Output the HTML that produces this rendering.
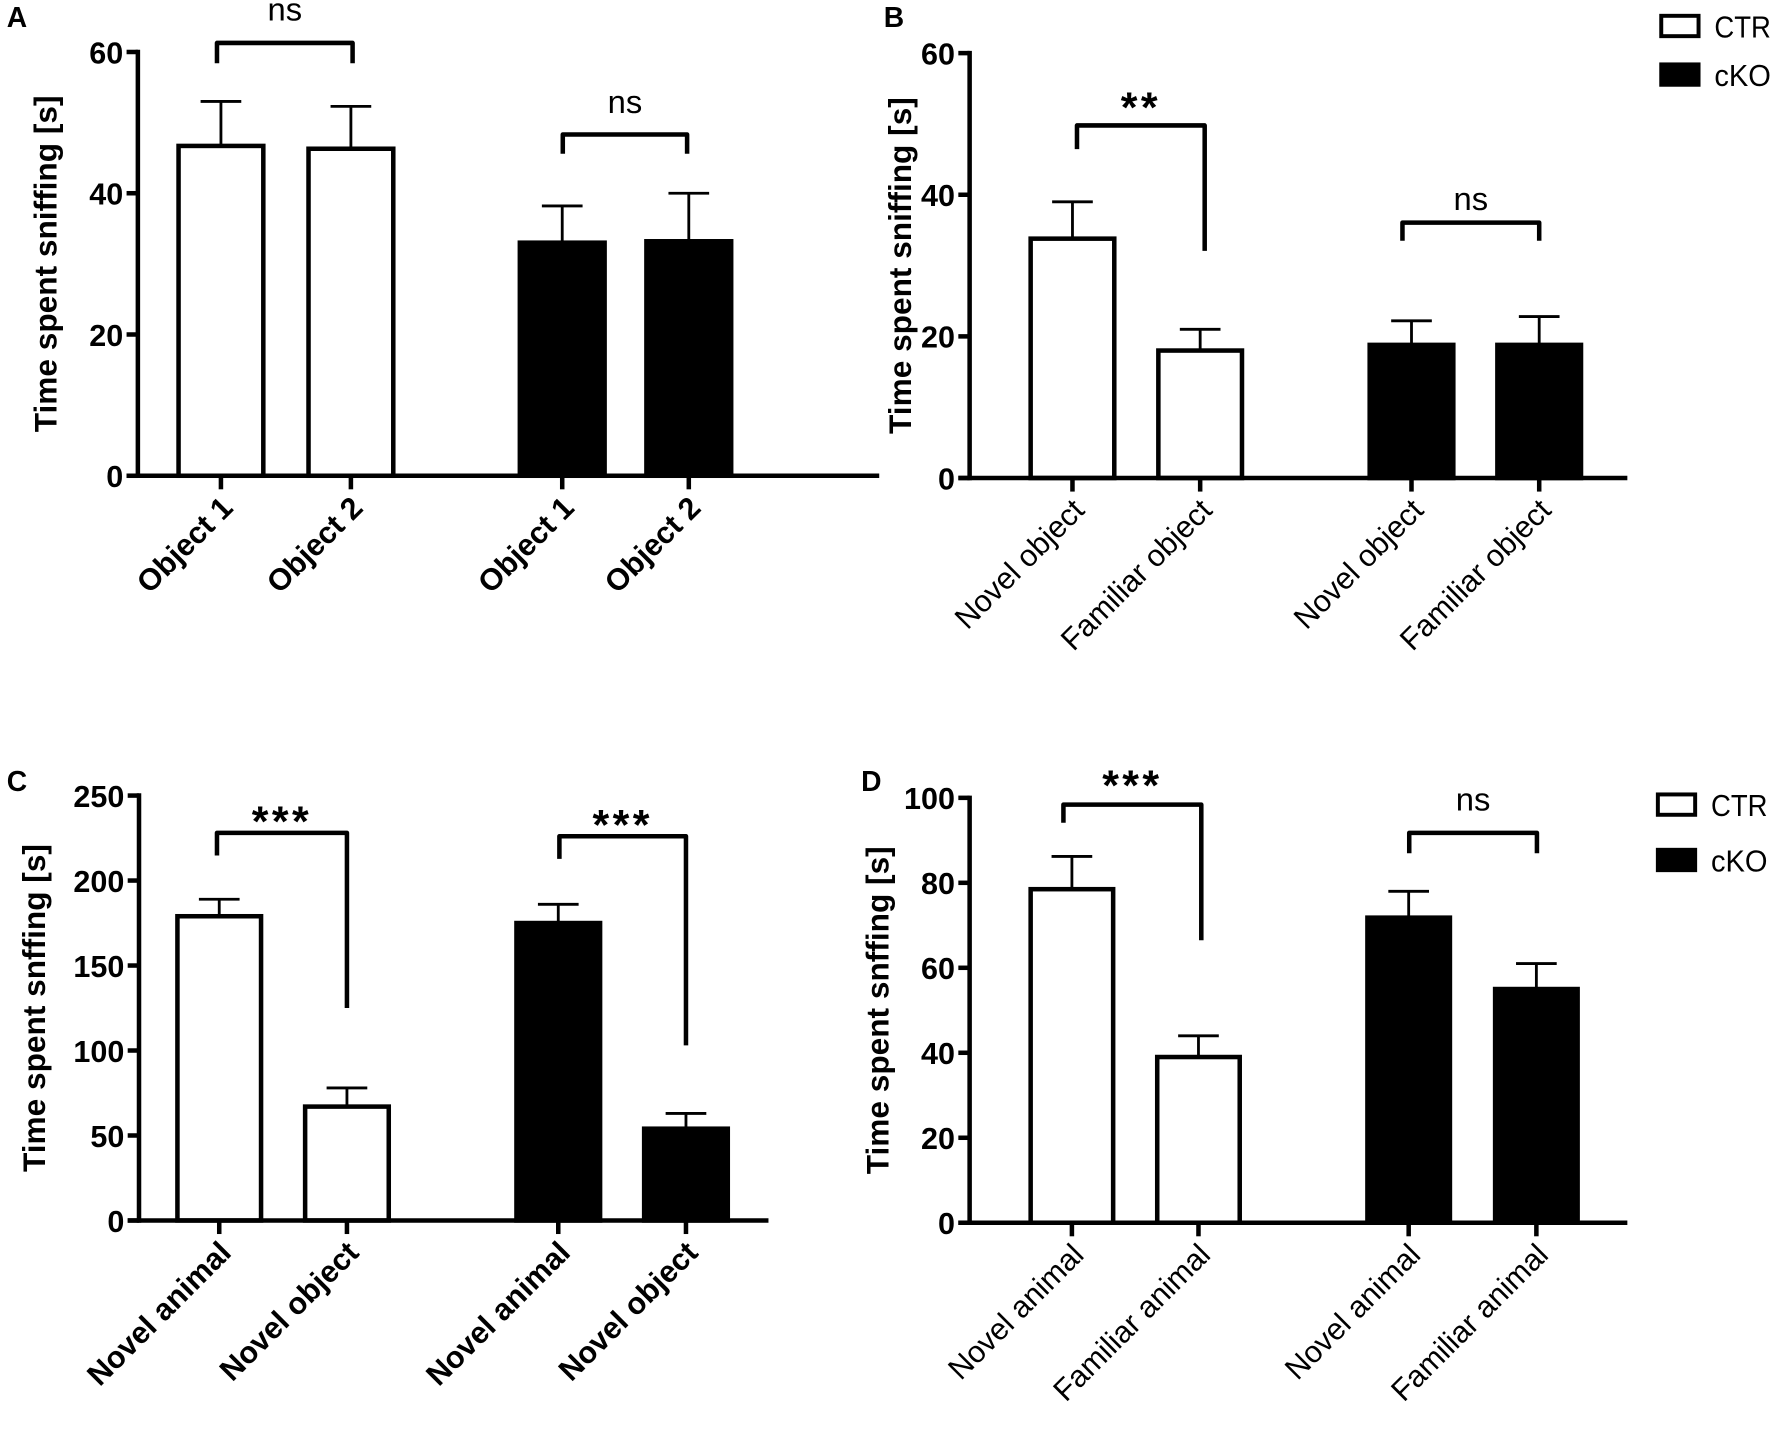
<!DOCTYPE html>
<html><head><meta charset="utf-8"><style>
html,body{margin:0;padding:0;background:#fff;}
svg{display:block;}
text{font-family:"Liberation Sans",Arial,sans-serif;fill:#000;}
</style></head><body>
<svg id="fig" width="1772" height="1437" viewBox="0 0 1568 1271.6" preserveAspectRatio="none" xmlns="http://www.w3.org/2000/svg"></svg>
<script>
// Panel A
const catsA = ["Object 1","Object 2","Object 1","Object 2"];
const valsA = [46.7, 46.3, 33.0, 33.2];
const errsA = [53.0, 52.3, 38.2, 40.0];
const ticksA = [0,20,40,60];
// Panel B
const catsB = ["Novel object","Familiar object","Novel object","Familiar object"];
const valsB = [33.8, 18.0, 18.8, 18.8];
const errsB = [39.0, 21.0, 22.2, 22.8];
const ticksB = [0,20,40,60];
// Panel C
const catsC = ["Novel animal","Novel object","Novel animal","Novel object"];
const valsC = [179, 67, 175, 54];
const errsC = [189, 78, 186, 63];
const ticksC = [0,50,100,150,200,250];
// Panel D
const catsD = ["Novel animal","Familiar animal","Novel animal","Familiar animal"];
const valsD = [78.5, 39.0, 71.8, 55.0];
const errsD = [86.2, 44.0, 78.0, 61.0];
const ticksD = [0,20,40,60,80,100];
const groups = ["CTR","CTR","cKO","cKO"];

const NS = "http://www.w3.org/2000/svg";
const svg = document.getElementById("fig");
function mk(tag, attrs, parent){
  const e = document.createElementNS(NS, tag);
  for (const k in attrs) e.setAttribute(k, attrs[k]);
  (parent||svg).appendChild(e);
  return e;
}

function panel(cfg){
  const g = mk("g", {});
  
  
  const y = v => cfg.y0 - (v - 0) / cfg.ymax * (cfg.y0 - cfg.ytop);
  const lt = mk("text", {x: cfg.letterX, y: cfg.letterY, "font-size": 25, "font-weight": "bold"}, g);
  lt.textContent = cfg.id;
  
  
  cfg.ticks.forEach(t => {
    const tl = mk("line", {x1: cfg.ax - 10, x2: cfg.ax, y1: y(t), y2: y(t), stroke: "#000", "stroke-width": 4}, g);
    
    
    const tx = mk("text", {x: cfg.ax - 13, y: y(t) + 10, "font-size": 27, "font-weight": "bold", "text-anchor": "end"}, g);
    tx.textContent = t;
    
    
  });
  const yt = mk("text", {x: 0, y: 0, "font-size": 28, "font-weight": "bold", "text-anchor": "middle",
    transform: `translate(${cfg.titleX},${(cfg.y0 + cfg.ytop) / 2}) rotate(-90)`}, g);
  yt.textContent = "Time spent " + cfg.sniff + " [s]";
  
  
  cfg.vals.forEach((v, i) => {
    const x0 = cfg.barX[i], w = cfg.barW, cx = x0 + w / 2;
    const filled = groups[i] === "cKO";
    const eb = mk("line", {x1: cx, x2: cx, y1: y(v), y2: y(cfg.errs[i]), stroke: "#000", "stroke-width": 2.5}, g);
    
    
    const ec = mk("line", {x1: cx - 18, x2: cx + 18, y1: y(cfg.errs[i]), y2: y(cfg.errs[i]), stroke: "#000", "stroke-width": 2.5}, g);
    
    
    const r = mk("rect", {x: x0, y: y(v), width: w, height: cfg.y0 - y(v), fill: filled ? "#000" : "#fff", stroke: "#000", "stroke-width": 4}, g);
    
    
    const xt = mk("line", {x1: cx, x2: cx, y1: cfg.y0, y2: cfg.y0 + 12, stroke: "#000", "stroke-width": 4}, g);
    
    
    const lb = mk("text", {x: 0, y: 0, "font-size": 27, "font-weight": cfg.boldLabels ? "bold" : "normal", "text-anchor": "end",
      transform: `translate(${cx + 12},${cfg.y0 + 30}) rotate(-45)`}, g);
    lb.textContent = cfg.cats[i];
    
    
  });
  const ya = mk("line", {x1: cfg.ax, x2: cfg.ax, y1: cfg.ytop - 2, y2: cfg.y0 + 2, stroke: "#000", "stroke-width": 4}, g);
  
  
  const xa = mk("line", {x1: cfg.ax - 10, x2: cfg.axEnd, y1: cfg.y0, y2: cfg.y0, stroke: "#000", "stroke-width": 4}, g);
  
  
  cfg.brackets.forEach(b => {
    const p = mk("polyline", {points: `${b.x1},${b.yl} ${b.x1},${b.top} ${b.x2},${b.top} ${b.x2},${b.yr}`, fill: "none", stroke: "#000", "stroke-width": 4, "stroke-linejoin": "round"}, g);
    
    
    const isNs = b.label === "ns";
    const st = mk("text", {x: (b.x1 + b.x2) / 2, y: b.ty, "font-size": isNs ? 29 : 38, "font-weight": isNs ? "normal" : "bold", "text-anchor": "middle", "letter-spacing": isNs ? 0 : 3}, g);
    st.textContent = b.label;
    
    
  });
  if (cfg.legend) {
    const L = cfg.legend;
    [["CTR", "#fff", 0], ["cKO", "#000", 1]].forEach(([name, fill, k]) => {
      const yy = L.y + k * L.dy;
      const r = mk("rect", {x: L.x, y: yy, width: 33, height: 18, fill: fill, stroke: "#000", "stroke-width": 3.5}, g);
      
      
      const t = mk("text", {x: L.x + 47, y: yy + 19, "font-size": 27, textLength: 50, lengthAdjust: "spacingAndGlyphs"}, g);
      t.textContent = name;
      
      
    });
  }
}

panel({id: "A", cats: catsA, vals: valsA, errs: errsA, ticks: ticksA, ymax: 60, ax: 122, axEnd: 778, y0: 421, ytop: 46,
  barX: [158, 273, 460, 572], barW: 75, letterX: 6, letterY: 24, titleX: 50, sniff: "sniffing", boldLabels: true,
  brackets: [{x1: 192, x2: 312, top: 38, yl: 56, yr: 56, label: "ns", ty: 18},
             {x1: 498, x2: 608, top: 119, yl: 136, yr: 136, label: "ns", ty: 100}]});
panel({id: "B", cats: catsB, vals: valsB, errs: errsB, ticks: ticksB, ymax: 60, ax: 858, axEnd: 1440, y0: 423, ytop: 47,
  barX: [912, 1025, 1212, 1325], barW: 74, letterX: 782, letterY: 24, titleX: 806, sniff: "sniffing", boldLabels: false,
  brackets: [{x1: 953, x2: 1066, top: 111, yl: 132, yr: 222, label: "**", ty: 108},
             {x1: 1241, x2: 1362, top: 197, yl: 213, yr: 213, label: "ns", ty: 186}],
  legend: {x: 1470, y: 14, dy: 43}});
panel({id: "C", cats: catsC, vals: valsC, errs: errsC, ticks: ticksC, ymax: 250, ax: 123, axEnd: 680, y0: 1080, ytop: 704,
  barX: [157, 270, 457, 570], barW: 74, letterX: 6, letterY: 700, titleX: 40, sniff: "snffing", boldLabels: true,
  brackets: [{x1: 192, x2: 307, top: 737, yl: 757, yr: 892, label: "***", ty: 740},
             {x1: 495, x2: 607, top: 740, yl: 760, yr: 925, label: "***", ty: 743}]});
panel({id: "D", cats: catsD, vals: valsD, errs: errsD, ticks: ticksD, ymax: 100, ax: 858, axEnd: 1440, y0: 1082, ytop: 706,
  barX: [912, 1024, 1210, 1323], barW: 73, letterX: 762, letterY: 700, titleX: 786, sniff: "snffing", boldLabels: false,
  brackets: [{x1: 941, x2: 1063, top: 712, yl: 728, yr: 832, label: "***", ty: 708},
             {x1: 1247, x2: 1360, top: 737, yl: 755, yr: 755, label: "ns", ty: 717}],
  legend: {x: 1467, y: 703, dy: 49}});
</script>
</body></html>
